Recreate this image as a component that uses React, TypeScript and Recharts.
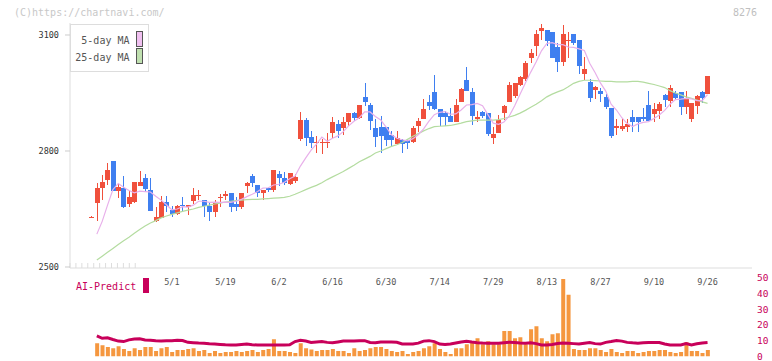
import React from 'react';
import { ComposedChart, Bar, Line, XAxis, YAxis } from 'recharts';

// daily candles, 4/9 .. 9/26
const open = [2630, 2666, 2703, 2725, 2774, 2697, 2704, 2664, 2669, 2710,
  2730, 2699, 2619, 2627, 2668, 2647, 2637, 2661, 2655, 2671,
  2685, 2673, 2658, 2643, 2679, 2684, 2691, 2663, 2656, 2710,
  2735, 2712, 2692, 2704, 2698, 2741, 2730, 2715, 2722, 2831,
  2880, 2836, 2821, 2821, 2822, 2847, 2870, 2860, 2875, 2898,
  2885, 2940, 2919, 2860, 2862, 2862, 2841, 2818, 2829, 2829,
  2822, 2865, 2883, 2927, 2953, 2909, 2898, 2891, 2875, 2927,
  2984, 2953, 2883, 2901, 2898, 2834, 2847, 2898, 2927, 2942,
  2971, 2986, 3041, 3072, 3110, 3113, 3108, 3069, 3030, 3085,
  3103, 3087, 2999, 2978, 2958, 2955, 2940, 2911, 2860, 2857,
  2862, 2888, 2888, 2888, 2919, 2896, 2904, 2945, 2929, 2950,
  2953, 2914, 2883, 2916, 2953, 2947];
const high = [2631, 2718, 2739, 2768, 2775, 2715, 2735, 2697, 2720, 2748,
  2741, 2730, 2655, 2684, 2684, 2658, 2660, 2681, 2661, 2704,
  2699, 2674, 2668, 2673, 2689, 2697, 2692, 2681, 2692, 2721,
  2741, 2713, 2700, 2705, 2752, 2749, 2745, 2744, 2740, 2901,
  2885, 2852, 2839, 2831, 2847, 2888, 2880, 2888, 2899, 2901,
  2920, 2976, 2924, 2883, 2891, 2863, 2852, 2852, 2830, 2830,
  2865, 2885, 2935, 2945, 2997, 2909, 2904, 2911, 2935, 2963,
  3017, 2963, 2904, 2904, 2899, 2862, 2893, 2919, 2979, 2977,
  2994, 3033, 3064, 3113, 3129, 3114, 3108, 3079, 3126, 3108,
  3103, 3088, 3043, 2986, 2968, 2963, 2947, 2912, 2883, 2885,
  2883, 2906, 2889, 2911, 2955, 2924, 2927, 2947, 2971, 2955,
  2953, 2955, 2925, 2945, 2955, 2994];
const low = [2629, 2620, 2672, 2713, 2697, 2679, 2653, 2654, 2666, 2709,
  2695, 2646, 2617, 2627, 2643, 2630, 2634, 2645, 2634, 2663,
  2673, 2630, 2620, 2630, 2654, 2673, 2641, 2646, 2651, 2691,
  2708, 2680, 2673, 2695, 2695, 2710, 2712, 2712, 2718, 2826,
  2813, 2808, 2795, 2792, 2808, 2834, 2834, 2841, 2865, 2878,
  2884, 2916, 2854, 2810, 2795, 2813, 2813, 2815, 2795, 2806,
  2821, 2849, 2882, 2906, 2906, 2865, 2865, 2875, 2874, 2926,
  2955, 2867, 2875, 2885, 2839, 2818, 2846, 2880, 2926, 2937,
  2968, 2981, 3028, 3046, 3087, 3072, 3040, 3004, 3020, 3041,
  3074, 2999, 2984, 2927, 2935, 2927, 2909, 2834, 2841, 2852,
  2849, 2849, 2849, 2878, 2877, 2875, 2883, 2914, 2914, 2932,
  2893, 2896, 2875, 2896, 2924, 2947];
const close = [2630, 2704, 2720, 2751, 2697, 2707, 2654, 2681, 2720, 2720,
  2702, 2646, 2629, 2668, 2659, 2638, 2658, 2659, 2660, 2686,
  2687, 2658, 2643, 2668, 2681, 2689, 2656, 2656, 2691, 2718,
  2718, 2692, 2699, 2698, 2751, 2730, 2718, 2743, 2733, 2880,
  2834, 2821, 2823, 2823, 2824, 2875, 2852, 2875, 2898, 2885,
  2919, 2927, 2878, 2836, 2839, 2828, 2828, 2834, 2818, 2820,
  2860, 2878, 2909, 2916, 2909, 2888, 2888, 2875, 2919, 2960,
  2955, 2891, 2888, 2891, 2844, 2844, 2880, 2916, 2971, 2976,
  2991, 3028, 3054, 3103, 3118, 3085, 3041, 3030, 3103, 3087,
  3079, 3020, 3012, 2937, 2966, 2947, 2914, 2839, 2865, 2865,
  2870, 2875, 2875, 2883, 2878, 2909, 2922, 2932, 2963, 2937,
  2914, 2935, 2924, 2942, 2937, 2994];

const ma5 = [null, 2585, 2618, 2660, 2700, 2716, 2706, 2698, 2692, 2696,
  2695, 2694, 2683, 2673, 2661, 2648, 2650, 2656, 2655, 2660,
  2670, 2670, 2667, 2668, 2667, 2668, 2667, 2670, 2675, 2682,
  2688, 2695, 2704, 2705, 2712, 2714, 2719, 2728, 2735, 2761,
  2782, 2802, 2818, 2836, 2825, 2833, 2839, 2850, 2865, 2877,
  2886, 2901, 2901, 2889, 2880, 2862, 2842, 2833, 2829, 2826,
  2832, 2842, 2857, 2877, 2894, 2900, 2902, 2895, 2896, 2906,
  2919, 2920, 2923, 2917, 2894, 2872, 2869, 2875, 2891, 2917,
  2947, 2976, 3004, 3030, 3059, 3078, 3080, 3075, 3075, 3069,
  3068, 3064, 3060, 3027, 3003, 2976, 2955, 2921, 2906, 2886,
  2871, 2863, 2870, 2874, 2876, 2884, 2893, 2905, 2921, 2933,
  2934, 2936, 2935, 2930, 2930, 2946];
const ma25 = [null, 2518, 2528, 2538, 2548, 2558, 2568, 2577, 2587, 2597,
  2606, 2614, 2620, 2627, 2632, 2636, 2640, 2644, 2647, 2650,
  2654, 2657, 2660, 2663, 2665, 2668, 2670, 2672, 2673, 2674,
  2675, 2675, 2676, 2677, 2678, 2679, 2680, 2683, 2688, 2694,
  2700, 2706, 2711, 2718, 2726, 2733, 2740, 2747, 2755, 2763,
  2772, 2779, 2786, 2795, 2800, 2806, 2812, 2816, 2822, 2830,
  2838, 2845, 2852, 2858, 2863, 2864, 2865, 2866, 2869, 2872,
  2876, 2878, 2880, 2880, 2880, 2880, 2881, 2884, 2888, 2892,
  2898, 2905, 2913, 2921, 2930, 2940, 2947, 2953, 2958, 2966,
  2975, 2980, 2983, 2983, 2982, 2981, 2980, 2980, 2979, 2979,
  2979, 2980, 2980, 2978, 2975, 2972, 2968, 2964, 2956, 2950,
  2945, 2940, 2936, 2932, 2927, 2923];

const volume = [0, 8.5, 7.2, 6.0, 5.3, 6.6, 4.7, 3.5, 5.3, 4.1,
  6.0, 6.0, 3.5, 5.3, 6.0, 2.9, 4.1, 4.1, 4.7, 5.3,
  3.5, 4.1, 2.2, 3.5, 2.2, 2.9, 2.9, 3.5, 2.9, 3.5,
  4.1, 2.9, 4.1, 4.7, 11.0, 3.5, 3.5, 2.9, 2.2, 8.5,
  5.3, 4.4, 3.5, 4.1, 4.1, 4.7, 3.5, 3.5, 2.2, 5.3,
  3.5, 4.1, 5.3, 6.0, 6.0, 4.7, 3.5, 2.9, 3.5, 1.6,
  2.9, 3.5, 5.3, 6.6, 8.5, 4.7, 2.9, 1.6, 5.3, 5.3,
  7.8, 9.1, 11.6, 7.8, 9.7, 7.8, 7.8, 16.2, 16.2, 11.6,
  12.3, 7.8, 17.3, 19.2, 11.6, 9.7, 14.2, 14.8, 49.4, 39.3,
  4.7, 4.1, 4.1, 5.3, 5.3, 4.1, 2.9, 4.7, 2.9, 2.2,
  3.5, 3.5, 2.2, 2.9, 3.5, 3.5, 4.1, 4.1, 2.9, 2.2,
  2.9, 9.1, 3.5, 3.5, 2.2, 4.1];
const aiPredict = [null, 13.1, 11.6, 11.9, 10.8, 9.8, 9.5, 10.6, 11.2, 11.3,
  10.5, 10.3, 10.0, 9.9, 10.0, 10.1, 10.4, 10.2, 9.0, 8.8,
  8.6, 8.5, 8.1, 7.9, 7.7, 7.5, 7.4, 7.3, 7.6, 7.9,
  7.5, 7.3, 7.3, 7.3, 7.3, 7.3, 7.3, 7.4, 9.5, 10.3,
  9.9, 9.0, 9.3, 9.5, 9.0, 8.7, 9.3, 9.9, 9.9, 9.9,
  10.1, 10.1, 8.9, 8.7, 9.2, 9.3, 9.2, 9.1, 8.0, 7.9,
  7.9, 8.5, 9.8, 10.1, 9.5, 7.9, 7.7, 8.0, 8.6, 9.2,
  9.7, 9.2, 8.8, 8.6, 8.5, 8.5, 8.5, 8.8, 9.1, 8.9,
  8.6, 8.5, 8.7, 8.2, 7.3, 7.4, 7.6, 8.3, 8.6, 8.5,
  8.2, 7.9, 8.4, 8.9, 8.2, 7.9, 9.0, 9.5, 10.2, 9.8,
  9.0, 8.7, 8.5, 8.7, 8.9, 8.9, 8.9, 8.0, 7.3, 7.3,
  7.4, 8.3, 7.4, 8.1, 8.6, 8.9];

const dateTicks = [15, 25, 35, 45, 55, 65, 75, 85, 95, 105, 115];
const dateLabels = ['5/1', '5/19', '6/2', '6/16', '6/30', '7/14', '7/29', '8/13', '8/27', '9/10', '9/26'];
const priceTicks = [2500, 2800, 3100];
const predictTicks = [0, 10, 20, 30, 40, 50];
const gridTicks = [0, 1, 2, 3, 4, 5, 6, 7, 8, 9, 10, 11];

const rows = open.map((o, i) => ({
  i,
  o,
  h: high[i],
  l: low[i],
  c: close[i],
  range: [low[i], high[i]],
  ma5: ma5[i],
  ma25: ma25[i],
  vol: volume[i],
  ai: aiPredict[i],
}));

const RED = '#f0503c';
const BLUE = '#3f7ff0';
const MAGENTA = '#c8005a';
const MONO = '"DejaVu Sans Mono", monospace';
const X_DOMAIN: [number, number] = [-4.01, 123.3];

function Candle(props: any) {
  const { x, y, width, height, payload } = props;
  if (!payload || y == null) return null;
  const { o, h, l, c } = payload;
  const k = h === l ? 0 : height / (h - l);
  const py = (v: number) => y + (h - v) * k;
  const cx = Math.round(x + width / 2) + 0.5;
  const color = c >= o ? RED : BLUE;
  const top = py(Math.max(o, c));
  const bot = py(Math.min(o, c));
  return (
    <g shapeRendering="crispEdges">
      <line x1={cx} x2={cx} y1={y} y2={y + height} stroke={color} strokeWidth={1} />
      <rect x={cx - 2.5} y={top} width={5} height={Math.max(bot - top, 1)} fill={color} />
    </g>
  );
}

export default function App() {
  return (
    <div style={{ position: 'fixed', left: 0, top: 0, width: 772, height: 361, background: '#fff' }}>
      <div style={{ position: 'absolute', left: 0, top: 0 }}>
        <ComposedChart width={772} height={361} data={rows} margin={{ top: 23, right: 20, bottom: 93, left: 20 }}>
          <XAxis xAxisId="c" dataKey="i" type="number" domain={X_DOMAIN} allowDataOverflow hide />
          <XAxis
            xAxisId="g"
            type="number"
            domain={[0, 11]}
            ticks={gridTicks}
            allowDataOverflow
            mirror
            tickSize={5}
            tickFormatter={() => ''}
            axisLine={{ stroke: '#ddd' }}
            tickLine={{ stroke: '#ddd' }}
          />
          <YAxis
            yAxisId="p"
            domain={[2497.4, 3131]}
            allowDataOverflow
            ticks={priceTicks}
            interval={0}
            width={50}
            tickSize={5}
            tickMargin={6}
            axisLine={{ stroke: '#ddd' }}
            tickLine={{ stroke: '#ccc' }}
            tick={{ fill: '#333', fontSize: 8.5, fontFamily: MONO }}
          />
          <Line xAxisId="c" yAxisId="p" dataKey="ma25" stroke="#b4dca0" strokeWidth={1.2} dot={false} isAnimationActive={false} />
          <Line xAxisId="c" yAxisId="p" dataKey="ma5" stroke="#e8b0ea" strokeWidth={1.2} dot={false} isAnimationActive={false} />
          <Bar xAxisId="c" yAxisId="p" dataKey="range" barSize={5} shape={<Candle />} isAnimationActive={false} />
        </ComposedChart>
      </div>
      <div style={{ position: 'absolute', left: 0, top: 0 }}>
        <ComposedChart width={772} height={361} data={rows} margin={{ top: 278, right: 0, bottom: 4.5, left: 70 }}>
          <XAxis
            xAxisId="v"
            dataKey="i"
            type="number"
            domain={X_DOMAIN}
            allowDataOverflow
            ticks={dateTicks}
            interval={0}
            orientation="top"
            mirror
            axisLine={false}
            tickLine={false}
            tickSize={0}
            tickMargin={1}
            tickFormatter={(v: number) => dateLabels[dateTicks.indexOf(v)] ?? ''}
            tick={{ fill: '#555', fontSize: 8.5, fontFamily: MONO }}
          />
          <YAxis
            yAxisId="a"
            orientation="right"
            domain={[0, 50]}
            ticks={predictTicks}
            interval={0}
            allowDataOverflow
            width={20}
            axisLine={false}
            tickLine={false}
            tickSize={0}
            tickMargin={5}
            tick={{ fill: MAGENTA, fontSize: 9.5, fontFamily: MONO }}
          />
          <Bar xAxisId="v" yAxisId="a" dataKey="vol" fill="#f5973f" barSize={4} isAnimationActive={false} />
          <Line xAxisId="v" yAxisId="a" dataKey="ai" stroke={MAGENTA} strokeWidth={3} dot={false} isAnimationActive={false} />
        </ComposedChart>
      </div>
      <svg width={772} height={361} style={{ position: 'absolute', left: 0, top: 0, pointerEvents: 'none' }}>
        <text x={14} y={15.5} fontFamily={MONO} fontSize={10} fill="#c8c8c8">(C)https://chartnavi.com/</text>
        <text x={757} y={16} fontFamily={MONO} fontSize={10} fill="#c0c0c0" textAnchor="end">8276</text>
        <g shapeRendering="crispEdges">
          <rect x={70.5} y={24.5} width={78} height={47} fill="#fff" stroke="#ddd" />
          <rect x={136.5} y={31.5} width={6} height={15} fill="#f0c0f0" stroke="#555" />
          <rect x={136.5} y={48.5} width={6} height={15} fill="#c0e0b0" stroke="#555" />
          <rect x={142.5} y={277.5} width={6} height={15} fill={MAGENTA} />
        </g>
        <text x={129.5} y={44} fontFamily={MONO} fontSize={10} fill="#555" textAnchor="end">5-day MA</text>
        <text x={129.5} y={60.5} fontFamily={MONO} fontSize={10} fill="#555" textAnchor="end">25-day MA</text>
        <text x={76} y={290} fontFamily={MONO} fontSize={10} fill={MAGENTA}>AI-Predict</text>
      </svg>
    </div>
  );
}
